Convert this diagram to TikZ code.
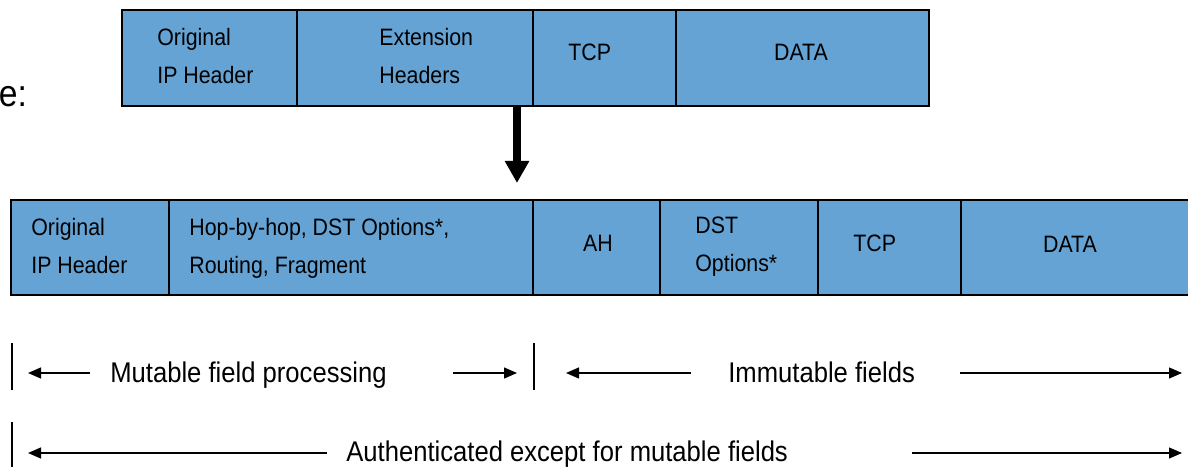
\documentclass[tikz,border=0pt]{standalone}
\usepackage{fontspec}
\setmainfont[FakeStretch=0.9]{Liberation Sans}
\usetikzlibrary{arrows.meta}
\definecolor{pktblue}{RGB}{101,163,213}

\begin{document}
\begin{tikzpicture}[x=1cm,y=1cm]
\tikzset{
  cell/.style={draw,fill=pktblue,line width=1.1pt,inner sep=0pt},
  toprow/.style={cell,minimum height=1.92cm},
  botrow/.style={cell,minimum height=1.90cm},
  celltext/.style={inner sep=0pt,align=left,font=\fontsize{13.5}{21.6}\selectfont},
  spantext/.style={inner sep=0pt,anchor=base west,font=\fontsize{16.2}{19}\selectfont},
  span/.style={-{Triangle[width=2.2mm,length=2.6mm]},line width=0.7pt},
  tick/.style={line width=0.7pt},
  bigarrow/.style={-{Triangle[width=4.6mm,length=4.4mm]},line width=1.6mm}
}
\useasboundingbox (0,0) rectangle (23.76,9.32);
\node[anchor=base west,inner sep=0pt,font=\fontsize{21.3}{25}\selectfont] (n_lead) at (-0.03,7.18) {e:};
\node[toprow,minimum width=3.50cm] (t_ip) at (4.19,8.16) {};
\node[toprow,minimum width=4.72cm] (t_ext) at (8.30,8.16) {};
\node[toprow,minimum width=2.86cm] (t_tcp) at (12.09,8.16) {};
\node[toprow,minimum width=5.06cm] (t_data) at (16.05,8.16) {};
\node[celltext,anchor=west] (l_t_ip) at (3.14,8.20) {Original\\IP Header};
\node[celltext,anchor=west] (l_t_ext) at (7.58,8.20) {Extension\\Headers};
\node[celltext,anchor=west] (l_t_tcp) at (11.36,8.28) {TCP};
\node[celltext] (l_t_data) at (16.02,8.28) {DATA};
\node[botrow,minimum width=3.16cm] (b_ip) at (1.80,4.37) {};
\node[botrow,minimum width=7.28cm] (b_hop) at (7.02,4.37) {};
\node[botrow,minimum width=2.54cm] (b_ah) at (11.93,4.37) {};
\node[botrow,minimum width=3.16cm] (b_dst) at (14.78,4.37) {};
\node[botrow,minimum width=2.86cm] (b_tcp) at (17.79,4.37) {};
\node[botrow,minimum width=4.98cm] (b_data) at (21.71,4.37) {};
\node[celltext,anchor=west] (l_b_ip) at (0.62,4.40) {Original\\IP Header};
\node[celltext,anchor=west] (l_b_hop) at (3.78,4.36) {Hop-by-hop, DST Options*,\\Routing, Fragment};
\node[celltext] (l_b_ah) at (11.96,4.46) {AH};
\node[celltext,anchor=west] (l_b_dst) at (13.90,4.38) {DST\\Options*};
\node[celltext,anchor=west] (l_b_tcp) at (17.06,4.46) {TCP};
\node[celltext] (l_b_data) at (21.40,4.44) {DATA};
\coordinate (c_split) at (10.34,7.20);
\coordinate (c_split_tip) at (10.34,5.66);
\draw[bigarrow] (c_split) -- (c_split_tip);
\node[spantext] (n_mut) at (2.20,1.68) {Mutable field processing};
\node[spantext] (n_imm) at (14.56,1.68) {Immutable fields};
\node[spantext] (n_auth) at (6.92,0.10) {Authenticated except for mutable fields};
\coordinate (k_a1) at (0.24,2.46);
\coordinate (k_a2) at (0.24,1.52);
\coordinate (k_b1) at (10.68,2.46);
\coordinate (k_b2) at (10.68,1.52);
\coordinate (k_c1) at (0.24,0.88);
\coordinate (k_c2) at (0.24,-0.10);
\draw[tick] (k_a1) -- (k_a2);
\draw[tick] (k_b1) -- (k_b2);
\draw[tick] (k_c1) -- (k_c2);
\coordinate (m_tail_l) at (1.80,1.86);
\coordinate (m_tip_l) at (0.56,1.86);
\coordinate (m_tail_r) at (9.06,1.86);
\coordinate (m_tip_r) at (10.34,1.86);
\coordinate (i_tail_l) at (13.82,1.86);
\coordinate (i_tip_l) at (11.32,1.86);
\coordinate (i_tail_r) at (19.20,1.86);
\coordinate (i_tip_r) at (23.64,1.86);
\coordinate (a_tail_l) at (6.54,0.26);
\coordinate (a_tip_l) at (0.56,0.26);
\coordinate (a_tail_r) at (18.24,0.26);
\coordinate (a_tip_r) at (23.64,0.26);
\draw[span] (m_tail_l) -- (m_tip_l);
\draw[span] (m_tail_r) -- (m_tip_r);
\draw[span] (i_tail_l) -- (i_tip_l);
\draw[span] (i_tail_r) -- (i_tip_r);
\draw[span] (a_tail_l) -- (a_tip_l);
\draw[span] (a_tail_r) -- (a_tip_r);
\end{tikzpicture}
\end{document}
